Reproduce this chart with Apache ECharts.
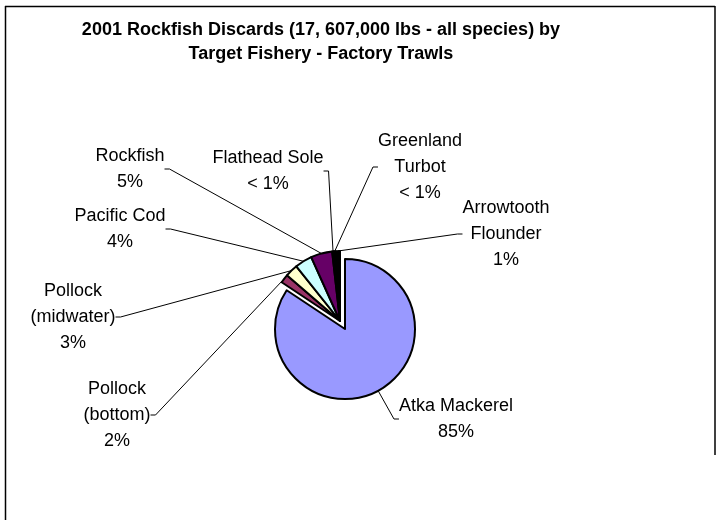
<!DOCTYPE html>
<html>
<head>
<meta charset="utf-8">
<script src="https://cdn.jsdelivr.net/npm/echarts@6/dist/echarts.min.js"></script>
<style>
  html, body { margin: 0; padding: 0; background: #fff; }
  #chart { width: 722px; height: 520px; }
</style>
</head>
<body>
<div id="chart"></div>
<script>
// data
var fisheries = ['Atka Mackerel', 'Pollock\n(bottom)', 'Pollock\n(midwater)', 'Pacific Cod', 'Rockfish', 'Flathead Sole', 'Greenland\nTurbot', 'Arrowtooth\nFlounder'];
var shares = [85, 2, 3, 4, 5, 0.4, 0.4, 1];
var shareLabels = ['85%', '2%', '3%', '4%', '5%', '< 1%', '< 1%', '1%'];
var sliceColors = ['#9999FF', '#993366', '#FFFFCC', '#CCFFFF', '#660066', '#000000', '#990099', '#000000'];

// where each label block sits (center x, center y)
var labelPos = [
  [456, 419], [117, 415], [73, 317], [120, 229],
  [130, 169], [268, 171], [420, 167], [506, 234]
];

var chart = echarts.init(document.getElementById('chart'));

var restSum = shares.slice(1).reduce(function (a, b) { return a + b; }, 0);

// invisible filler so both pies share the same angles
function filler(v) {
  return {
    name: '',
    value: v,
    itemStyle: { color: 'transparent', borderWidth: 0 },
    label: { show: false },
    labelLine: { show: false }
  };
}

function slice(i) {
  return { name: fisheries[i], value: shares[i], itemStyle: { color: sliceColors[i] } };
}

// big slice is pulled out a little (down-right), small ones stay at the center
var bigData = [slice(0), filler(restSum)];
var smallData = [filler(shares[0])];
for (var i = 1; i < fisheries.length; i++) smallData.push(slice(i));

var labelStyle = {
  show: true,
  color: '#000',
  fontFamily: 'Arial, "Liberation Sans"',
  fontSize: 18,
  lineHeight: 26,
  align: 'center',
  formatter: function (p) {
    return p.name + '\n' + shareLabels[fisheries.indexOf(p.name)];
  }
};

var lineStyle = {
  show: true,
  length: 8,
  length2: 5,
  smooth: false,
  lineStyle: { color: '#000', width: 1 }
};

// series 0 holds fishery 0 at index 0, series 1 holds fishery i at index i
function placeLabel(p) {
  var idx = p.seriesIndex === 0 ? (p.dataIndex === 0 ? 0 : -1) : (p.dataIndex === 0 ? -1 : p.dataIndex);
  if (idx < 0) return {};
  var pos = labelPos[idx];
  return { x: pos[0], y: pos[1], align: 'center', verticalAlign: 'middle' };
}

var pieBase = {
  type: 'pie',
  radius: 70,
  startAngle: 90,
  clockwise: true,
  avoidLabelOverlap: false,
  minAngle: 0,
  silent: true,
  emphasis: { disabled: true },
  itemStyle: { borderColor: '#000', borderWidth: 2 },
  label: labelStyle,
  labelLine: lineStyle,
  labelLayout: placeLabel
};

var option = {
  animation: false,
  backgroundColor: '#fff',
  title: {
    text: '2001 Rockfish Discards (17, 607,000 lbs - all species) by\nTarget Fishery - Factory Trawls',
    left: 316,
    top: 13,
    textAlign: 'center',
    textStyle: {
      fontFamily: 'Arial, "Liberation Sans"',
      fontSize: 18,
      fontWeight: 'bold',
      color: '#000',
      lineHeight: 24
    }
  },
  graphic: [
    { type: 'line', shape: { x1: 5, y1: 6.5, x2: 715, y2: 6.5 }, style: { stroke: '#000', lineWidth: 1.5 } },
    { type: 'line', shape: { x1: 5.5, y1: 6, x2: 5.5, y2: 520 }, style: { stroke: '#000', lineWidth: 1.5 } },
    { type: 'line', shape: { x1: 715, y1: 6, x2: 715, y2: 455 }, style: { stroke: '#000', lineWidth: 1.5 } }
  ],
  series: [
    Object.assign({}, pieBase, { name: 'big', center: [345, 329], data: bigData }),
    Object.assign({}, pieBase, { name: 'small', center: [340, 321], data: smallData })
  ]
};

option && chart.setOption(option);
</script>
</body>
</html>
